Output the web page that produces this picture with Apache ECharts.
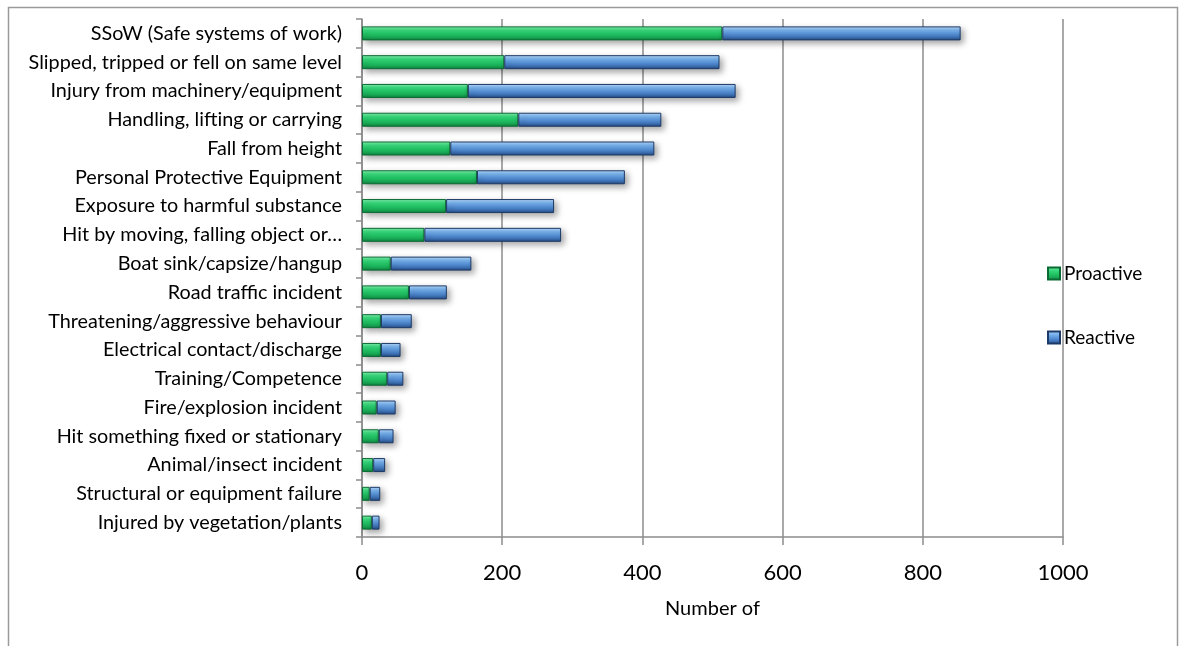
<!DOCTYPE html>
<html>
<head>
<meta charset="utf-8">
<script src="https://cdn.jsdelivr.net/npm/echarts@6/dist/echarts.min.js"></script>
<style>
  html, body { margin: 0; padding: 0; background: #fff; }
  #main { width: 1180px; height: 646px; }
</style>
</head>
<body>
<div id="main"></div>
<script>
// categories, top to bottom
const categories = [
  'SSoW (Safe systems of work)',
  'Slipped, tripped or fell on same level',
  'Injury from machinery/equipment',
  'Handling, lifting or carrying',
  'Fall from height',
  'Personal Protective Equipment',
  'Exposure to harmful substance',
  'Hit by moving, falling object or…',
  'Boat sink/capsize/hangup',
  'Road traffic incident',
  'Threatening/aggressive behaviour',
  'Electrical contact/discharge',
  'Training/Competence',
  'Fire/explosion incident',
  'Hit something fixed or stationary',
  'Animal/insect incident',
  'Structural or equipment failure',
  'Injured by vegetation/plants'
];
const proactive = [514, 203, 151, 223, 126, 164, 120, 89, 41, 67, 27, 27, 36, 21, 24, 16, 11, 14];
const reactive  = [340, 307, 382, 204, 291, 211, 154, 195, 115, 54, 44, 28, 23, 27, 21, 17, 15, 11];
const xTicks = { min: 0, max: 1000, interval: 200 };

const chart = echarts.init(document.getElementById('main'));

function bevel(stops) {
  return new echarts.graphic.LinearGradient(0, 0, 0, 1,
    stops.map((c, i) => ({ offset: i / (stops.length - 1), color: c })));
}
const greenFill = bevel(['#8af2b2', '#3ddb80', '#24c868', '#1aae58', '#0e7f3e']);
const blueFill = bevel(['#bcdcfb', '#7db6f0', '#5c97dc', '#4076bb', '#24477b']);

const barStyle = (fill, border) => ({
  color: fill,
  borderColor: border,
  borderWidth: 1,
  shadowColor: 'rgba(0,0,0,0.35)',
  shadowBlur: 6,
  shadowOffsetX: 3,
  shadowOffsetY: 3
});

const option = {
  backgroundColor: '#fff',
  animation: false,
  textStyle: { fontFamily: 'Lato, "Open Sans", sans-serif', color: '#000' },
  graphic: [{
    type: 'rect',
    shape: { x: 8.5, y: 7.5, width: 1169, height: 660 },
    style: { fill: 'none', stroke: '#9a9a9a', lineWidth: 1.5 },
    silent: true
  }],
  grid: { left: 362, right: 117, top: 19, bottom: 109 },
  legend: {
    orient: 'vertical',
    left: 1042,
    top: 259,
    itemGap: 45,
    itemWidth: 12,
    itemHeight: 12,
    icon: 'rect',
    textStyle: { fontSize: 19, color: '#000', padding: [0, 0, 0, -1] },
    data: ['Proactive', 'Reactive']
  },
  xAxis: {
    type: 'value',
    min: xTicks.min,
    max: xTicks.max,
    interval: xTicks.interval,
    name: 'Number of',
    nameLocation: 'middle',
    nameGap: 62,
    nameTextStyle: { fontSize: 20, color: '#000' },
    axisLine: { show: true, lineStyle: { color: '#8c8c8c', width: 1.5 } },
    axisTick: { show: true, length: 8, lineStyle: { color: '#8c8c8c', width: 1.5 } },
    axisLabel: { fontSize: 22, color: '#000', margin: 25, formatter: v => String(v) },
    splitLine: { show: true, lineStyle: { color: '#8c8c8c', width: 1.5 } }
  },
  yAxis: {
    type: 'category',
    inverse: true,
    data: categories,
    axisLine: { show: true, lineStyle: { color: '#8c8c8c', width: 1.5 } },
    axisTick: { show: true, length: 6, lineStyle: { color: '#8c8c8c', width: 1.5 } },
    axisLabel: { fontSize: 19.8, color: '#000', margin: 20 }
  },
  series: [
    {
      name: 'Proactive',
      type: 'bar',
      stack: 'total',
      barWidth: 14,
      data: proactive,
      itemStyle: barStyle(greenFill, '#0b6a33')
    },
    {
      name: 'Reactive',
      type: 'bar',
      stack: 'total',
      barWidth: 14,
      data: reactive,
      itemStyle: barStyle(blueFill, '#1d3a66')
    }
  ]
};
chart.setOption(option);
</script>
</body>
</html>
